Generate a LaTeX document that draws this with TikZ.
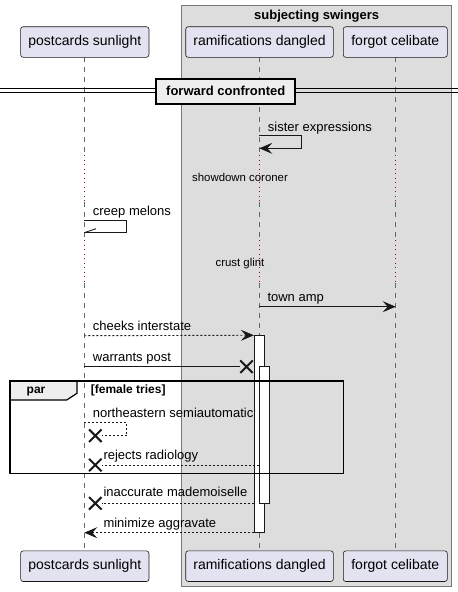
\documentclass[tikz,border=0pt]{standalone}
\usepackage{fontspec}
\setmainfont{Liberation Sans}
\usetikzlibrary{arrows.meta,shapes.misc}
\definecolor{partfill}{HTML}{E2E2F0}
\definecolor{partline}{HTML}{181818}
\definecolor{grpfill}{HTML}{DDDDDD}
\definecolor{grpline}{HTML}{777777}
\definecolor{delaycol}{HTML}{A80036}
\definecolor{tabfill}{HTML}{EEEEEE}
\definecolor{lifecol}{HTML}{666666}
\begin{document}
\begin{tikzpicture}[x=1pt,y=-1pt,
  participant/.style={draw=partline, fill=partfill, rounded corners=2.5pt, line width=0.6pt,
    minimum height=30.6pt, inner sep=0pt, font=\fontsize{14}{16}\selectfont},
  msg/.style={anchor=base west, inner sep=0pt, font=\fontsize{13}{15}\selectfont},
  delaytxt/.style={anchor=base, inner sep=0pt, font=\fontsize{11.4}{13}\selectfont},
  boldtxt/.style={anchor=base, inner sep=0pt, font=\fontsize{13}{15}\selectfont\bfseries},
  guardtxt/.style={anchor=base west, inner sep=0pt, font=\fontsize{12}{14}\selectfont\bfseries},
  lifeline/.style={draw=lifecol, dash pattern=on 5pt off 5pt, line width=0.6pt},
  delayline/.style={draw=delaycol, dash pattern=on 1.3pt off 3.2pt, line width=1.3pt},
  solidmsg/.style={draw=partline, line width=0.9pt},
  dashmsg/.style={draw=partline, line width=0.9pt, dash pattern=on 2pt off 2pt},
  arrowhd/.style={-{Stealth[length=13pt,width=11pt,inset=5pt]}},
  killmark/.style={cross out, draw=partline, line width=2pt, minimum size=10.5pt, inner sep=0pt},
  activation/.style={draw=partline, fill=white, line width=0.9pt, minimum width=10pt, inner sep=0pt}
]
\useasboundingbox (0,0) rectangle (458,592);

% group background
\draw[fill=grpfill, draw=grpline, line width=0.8pt] (181.7,5.3) rectangle (451.7,586.7);
\node[boldtxt] (grptitle) at (316.7,19.5) {subjecting swingers};

% lifeline coordinates
\foreach \n/\x in {p/84.3, r/259.3, f/395.7}{
  \coordinate (\n0) at (\x,57.3);
  \coordinate (\n1) at (\x,155);
  \coordinate (\n2) at (\x,202);
  \coordinate (\n3) at (\x,240);
  \coordinate (\n4) at (\x,283);
  \coordinate (\n5) at (\x,550);
  \draw[lifeline] (\n0) -- (\n1);
  \draw[delayline] (\n1) -- (\n2);
  \draw[lifeline] (\n2) -- (\n3);
  \draw[delayline] (\n3) -- (\n4);
  \draw[lifeline] (\n4) -- (\n5);
}

% participants
\node[participant, minimum width=128.3pt] (pTop) at (84.8,42) {postcards sunlight};
\node[participant, minimum width=147.6pt] (rTop) at (259.5,42) {ramifications dangled};
\node[participant, minimum width=104pt] (fTop) at (395.3,42) {forgot celibate};
\node[participant, minimum width=128.3pt] (pBot) at (84.8,566.2) {postcards sunlight};
\node[participant, minimum width=147.6pt] (rBot) at (259.5,566.2) {ramifications dangled};
\node[participant, minimum width=104pt] (fBot) at (395.3,566.2) {forgot celibate};

% divider
\coordinate (dl1) at (0,88.4); \coordinate (dr1) at (458,88.4);
\coordinate (dl2) at (0,92.4); \coordinate (dr2) at (458,92.4);
\draw[line width=0.9pt] (dl1) -- (dr1);
\draw[line width=0.9pt] (dl2) -- (dr2);
\node[draw, fill=tabfill, line width=2pt, minimum width=139pt, minimum height=25pt, inner sep=0pt,
  font=\fontsize{13}{15}\selectfont\bfseries] (divider) at (225.8,91.2) {forward confronted};

% sister expressions (self message)
\coordinate (s1) at (259.3,135.3);
\coordinate (s2) at (301.7,135.3);
\coordinate (s3) at (301.7,148.3);
\coordinate (s4) at (259.3,148.3);
\node[msg] (sisterlbl) at (267.7,131) {sister expressions};
\draw[solidmsg, arrowhd] (s1) -- (s2) -- (s3) -- (s4);

% delay 1
\node[delaytxt] (delay1) at (240,181.7) {showdown coroner};

% creep melons
\coordinate (c1) at (84.3,220);
\coordinate (c2) at (126.7,220);
\coordinate (c3) at (126.7,232.7);
\coordinate (c4) at (84.3,232.7);
\coordinate (c5) at (96,228.7);
\node[msg] (creeplbl) at (92.7,215.7) {creep melons};
\draw[solidmsg] (c1) -- (c2) -- (c3) -- (c4);
\draw[solidmsg] (c4) -- (c5);

% delay 2
\node[delaytxt] (delay2) at (240,266.7) {crust glint};

% town amp
\coordinate (t1) at (259.3,306.7);
\coordinate (t2) at (395.7,306.7);
\node[msg] (townlbl) at (267.3,301) {town amp};
\draw[solidmsg, arrowhd] (t1) -- (t2);

% activations
\node[activation, minimum height=197pt] (act1) at (259.3,434.2) {};
\node[activation, minimum height=136.6pt] (act2) at (264.3,435) {};

% cheeks interstate
\coordinate (ch1) at (84.3,335.7);
\node[msg] (cheekslbl) at (92.7,330.7) {cheeks interstate};
\draw[dashmsg, arrowhd] (ch1) -- (act1.north west);

% warrants post
\coordinate (w1) at (84.3,366.7);
\node[killmark] (wx) at (246.5,366.7) {};
\node[msg] (warrantslbl) at (92.7,361.7) {warrants post};
\draw[solidmsg] (w1) -- (wx.west);

% par box
\coordinate (par1) at (10,381);
\coordinate (par2) at (343.3,473.3);
\draw[fill=tabfill, line width=1.2pt] (10,381) -- (77,381) -- (77,393.3) -- (66.7,400) -- (10,400) -- cycle;
\draw[line width=1.6pt] (par1) rectangle (par2);
\node[guardtxt] (partag) at (26.5,393.3) {par};
\node[guardtxt] (guard) at (90.7,393.3) {[female tries]};

% northeastern semiautomatic
\coordinate (n1) at (84.3,422.3);
\coordinate (n2) at (126.7,422.3);
\coordinate (n3) at (126.7,435.7);
\node[killmark] (nx) at (95.3,435.7) {};
\node[msg] (nelbl) at (92.7,417.7) {northeastern semiautomatic};
\draw[dashmsg] (n1) -- (n2) -- (n3) -- (nx.east);

% rejects radiology
\coordinate (rr1) at (259.3,465);
\node[killmark] (rx) at (95.3,465) {};
\node[msg] (rrlbl) at (103.3,459.3) {rejects radiology};
\draw[dashmsg] (rr1) -- (rx.east);

% inaccurate mademoiselle
\coordinate (im1) at (254.3,503.3);
\node[killmark] (imx) at (95.3,503.3) {};
\node[msg] (imlbl) at (103.3,496.7) {inaccurate mademoiselle};
\draw[dashmsg] (im1) -- (imx.east);

% minimize aggravate
\coordinate (ma1) at (254.3,532.7);
\coordinate (ma2) at (84.3,532.7);
\node[msg] (malbl) at (103.3,527.7) {minimize aggravate};
\draw[dashmsg, arrowhd] (ma1) -- (ma2);
\end{tikzpicture}
\end{document}
